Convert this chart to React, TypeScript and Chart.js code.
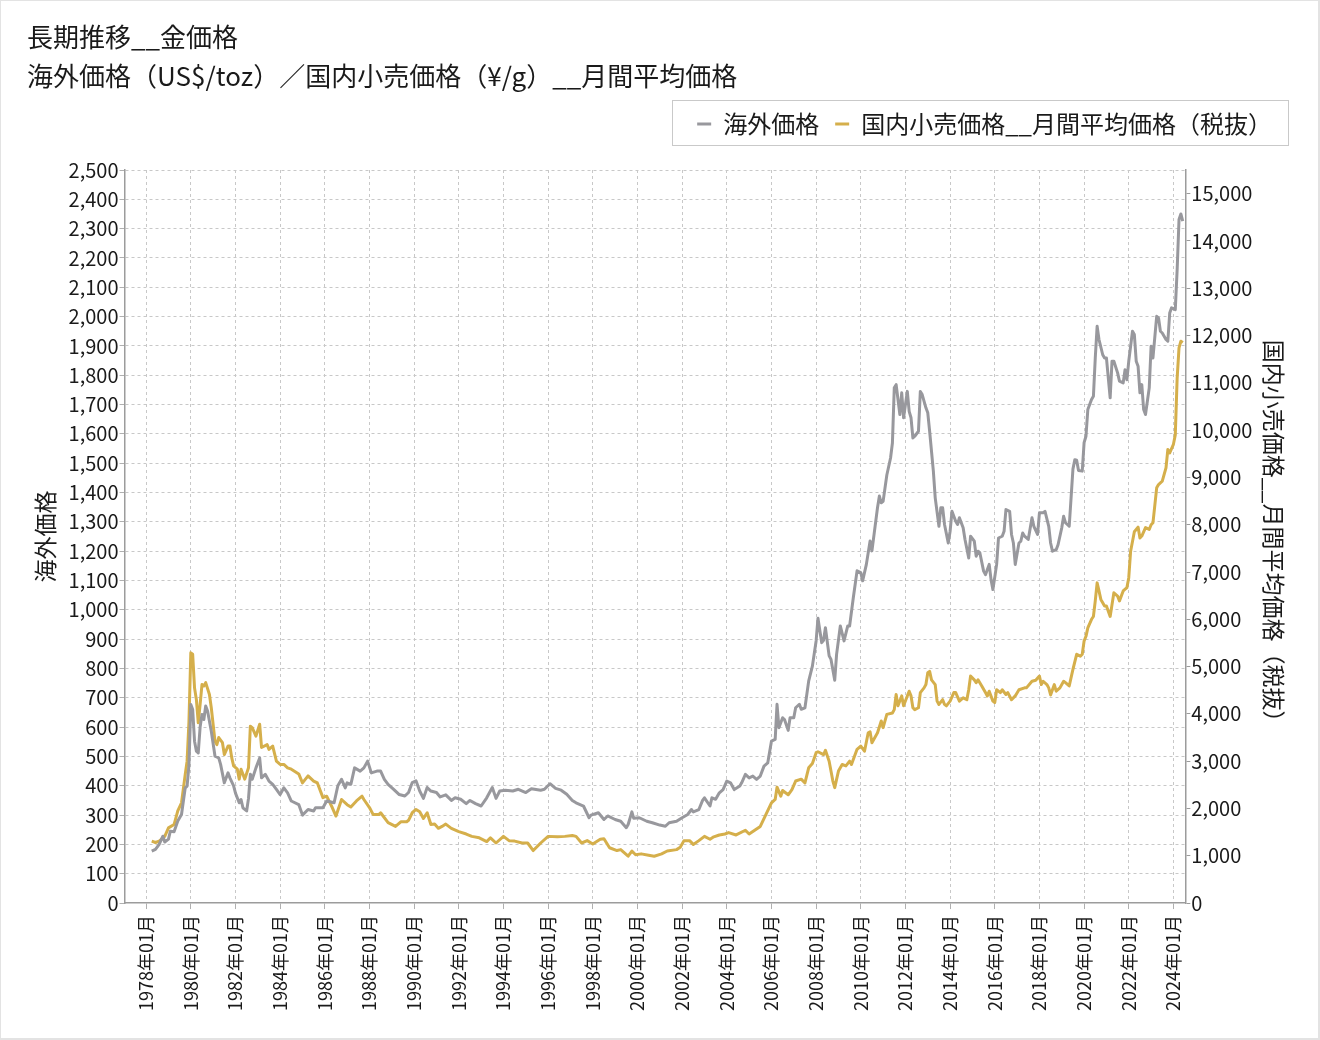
import { useEffect, useRef } from "react"
import { Chart, registerables } from "chart.js"

Chart.register(...registerables)

const FONT = "'Noto Sans CJK JP', 'Noto Sans', sans-serif"
Chart.defaults.font.family = FONT
Chart.defaults.color = "#1a1a1a"

const titleLines = ["長期推移__金価格", "海外価格（US$/toz）／国内小売価格（¥/g）__月間平均価格"]
const overseasLabel = "海外価格"
const domesticLabel = "国内小売価格__月間平均価格（税抜）"

const xTickLabels = [
  "1978年01月", "1980年01月", "1982年01月", "1984年01月", "1986年01月", "1988年01月",
  "1990年01月", "1992年01月", "1994年01月", "1996年01月", "1998年01月", "2000年01月",
  "2002年01月", "2004年01月", "2006年01月", "2008年01月", "2010年01月", "2012年01月",
  "2014年01月", "2016年01月", "2018年01月", "2020年01月", "2022年01月", "2024年01月",
]
const rightTickValues = [0, 1000, 2000, 3000, 4000, 5000, 6000, 7000, 8000, 9000, 10000, 11000, 12000, 13000, 14000, 15000]

// 海外価格 (US$/toz)
const overseasSeries: [string, number][] = [
  ["1978-04", 177], ["1978-06", 183], ["1978-08", 200], ["1978-10", 228], ["1978-11", 208],
  ["1979-01", 218], ["1979-02", 245], ["1979-04", 243], ["1979-06", 280], ["1979-08", 302],
  ["1979-10", 393], ["1979-11", 399], ["1979-12", 470], ["1980-01", 677], ["1980-02", 660],
  ["1980-03", 552], ["1980-04", 518], ["1980-05", 512], ["1980-06", 600], ["1980-07", 643],
  ["1980-08", 626], ["1980-09", 672], ["1980-10", 655], ["1980-12", 586], ["1981-02", 501],
  ["1981-04", 495], ["1981-05", 473], ["1981-07", 410], ["1981-09", 444], ["1981-10", 427],
  ["1981-12", 400], ["1982-01", 375], ["1982-03", 342], ["1982-04", 353], ["1982-05", 325],
  ["1982-07", 314], ["1982-08", 357], ["1982-09", 439], ["1982-10", 422], ["1982-12", 461],
  ["1983-02", 495], ["1983-03", 427], ["1983-05", 439], ["1983-07", 416], ["1983-09", 405],
  ["1983-11", 388], ["1984-01", 370], ["1984-03", 393], ["1984-05", 376], ["1984-07", 348],
  ["1984-11", 336], ["1985-01", 300], ["1985-04", 319], ["1985-07", 314], ["1985-08", 325],
  ["1985-12", 325], ["1986-02", 348], ["1986-06", 342], ["1986-08", 400], ["1986-10", 422],
  ["1986-12", 393], ["1987-01", 410], ["1987-03", 405], ["1987-05", 461], ["1987-08", 450],
  ["1987-10", 461], ["1987-12", 484], ["1988-02", 444], ["1988-05", 450], ["1988-07", 450],
  ["1988-09", 422], ["1988-11", 405], ["1989-02", 388], ["1989-05", 370], ["1989-08", 365],
  ["1989-10", 377], ["1989-12", 411], ["1990-02", 417], ["1990-04", 382], ["1990-06", 357],
  ["1990-08", 394], ["1990-10", 382], ["1991-01", 377], ["1991-03", 362], ["1991-06", 369],
  ["1991-09", 350], ["1991-11", 359], ["1992-02", 354], ["1992-05", 339], ["1992-07", 350],
  ["1992-10", 339], ["1993-01", 331], ["1993-04", 359], ["1993-07", 394], ["1993-09", 357],
  ["1993-11", 382], ["1994-02", 385], ["1994-06", 382], ["1994-09", 388], ["1995-01", 377],
  ["1995-04", 390], ["1995-09", 385], ["1995-11", 388], ["1996-02", 407], ["1996-05", 391],
  ["1996-08", 385], ["1996-11", 371], ["1997-02", 350], ["1997-04", 342], ["1997-08", 331],
  ["1997-11", 291], ["1997-12", 300], ["1998-04", 308], ["1998-07", 285], ["1998-09", 297],
  ["1999-01", 285], ["1999-04", 279], ["1999-07", 257], ["1999-08", 268], ["1999-10", 311],
  ["1999-11", 289], ["2000-02", 291], ["2000-06", 279], ["2000-09", 274], ["2001-01", 266],
  ["2001-04", 262], ["2001-06", 274], ["2001-10", 279], ["2002-01", 291], ["2002-04", 302],
  ["2002-06", 319], ["2002-07", 311], ["2002-10", 319], ["2002-12", 350], ["2003-01", 359],
  ["2003-04", 331], ["2003-05", 359], ["2003-07", 354], ["2003-09", 376], ["2003-11", 387],
  ["2004-01", 416], ["2004-03", 410], ["2004-05", 387], ["2004-08", 399], ["2004-09", 410],
  ["2004-11", 439], ["2005-01", 427], ["2005-03", 433], ["2005-05", 422], ["2005-07", 433],
  ["2005-09", 467], ["2005-11", 478], ["2006-01", 552], ["2006-03", 558], ["2006-04", 678],
  ["2006-05", 598], ["2006-07", 632], ["2006-08", 626], ["2006-10", 589], ["2006-11", 632],
  ["2007-01", 632], ["2007-02", 666], ["2007-04", 678], ["2007-05", 661], ["2007-07", 666],
  ["2007-09", 757], ["2007-11", 808], ["2008-01", 894], ["2008-02", 971], ["2008-04", 888],
  ["2008-05", 896], ["2008-06", 939], ["2008-08", 843], ["2008-09", 831], ["2008-11", 760],
  ["2008-12", 848], ["2009-02", 945], ["2009-04", 894], ["2009-06", 945], ["2009-07", 945],
  ["2009-09", 1042], ["2009-11", 1133], ["2010-01", 1127], ["2010-02", 1099], ["2010-04", 1155],
  ["2010-06", 1235], ["2010-07", 1201], ["2010-10", 1349], ["2010-11", 1388], ["2010-12", 1365],
  ["2011-01", 1370], ["2011-03", 1460], ["2011-05", 1518], ["2011-06", 1569], ["2011-07", 1757],
  ["2011-08", 1768], ["2011-10", 1666], ["2011-11", 1740], ["2011-12", 1655], ["2012-02", 1745],
  ["2012-03", 1677], ["2012-04", 1655], ["2012-05", 1586], ["2012-06", 1592], ["2012-08", 1609],
  ["2012-09", 1745], ["2012-10", 1734], ["2012-12", 1689], ["2013-01", 1672], ["2013-02", 1609],
  ["2013-04", 1473], ["2013-05", 1382], ["2013-07", 1285], ["2013-08", 1348], ["2013-09", 1348],
  ["2013-10", 1291], ["2013-12", 1228], ["2014-01", 1268], ["2014-02", 1336], ["2014-04", 1302],
  ["2014-05", 1291], ["2014-06", 1314], ["2014-08", 1280], ["2014-09", 1240], ["2014-11", 1177],
  ["2014-12", 1251], ["2015-02", 1234], ["2015-03", 1183], ["2015-04", 1200], ["2015-05", 1194],
  ["2015-07", 1132], ["2015-08", 1120], ["2015-10", 1155], ["2015-11", 1103], ["2015-12", 1069],
  ["2016-02", 1155], ["2016-03", 1245], ["2016-05", 1251], ["2016-06", 1268], ["2016-07", 1342],
  ["2016-09", 1336], ["2016-10", 1257], ["2016-11", 1228], ["2016-12", 1155], ["2017-02", 1228],
  ["2017-03", 1234], ["2017-04", 1262], ["2017-05", 1251], ["2017-07", 1240], ["2017-09", 1314],
  ["2017-10", 1285], ["2017-12", 1257], ["2018-01", 1331], ["2018-03", 1331], ["2018-04", 1336],
  ["2018-06", 1285], ["2018-07", 1228], ["2018-08", 1200], ["2018-10", 1205], ["2018-11", 1222],
  ["2019-01", 1280], ["2019-02", 1319], ["2019-03", 1297], ["2019-05", 1285], ["2019-06", 1382],
  ["2019-07", 1480], ["2019-08", 1512], ["2019-09", 1510], ["2019-10", 1475], ["2019-12", 1473],
  ["2020-01", 1570], ["2020-02", 1592], ["2020-03", 1683], ["2020-05", 1717], ["2020-06", 1728],
  ["2020-07", 1859], ["2020-08", 1967], ["2020-09", 1922], ["2020-11", 1870], ["2020-12", 1859],
  ["2021-01", 1859], ["2021-03", 1723], ["2021-04", 1848], ["2021-05", 1848], ["2021-07", 1808],
  ["2021-08", 1780], ["2021-10", 1774], ["2021-11", 1819], ["2021-12", 1785], ["2022-01", 1848],
  ["2022-03", 1950], ["2022-04", 1939], ["2022-05", 1848], ["2022-06", 1831], ["2022-07", 1740],
  ["2022-08", 1768], ["2022-09", 1683], ["2022-10", 1666], ["2022-12", 1757], ["2023-01", 1899],
  ["2023-02", 1859], ["2023-04", 2001], ["2023-05", 1995], ["2023-06", 1950], ["2023-07", 1944],
  ["2023-09", 1922], ["2023-10", 1916], ["2023-11", 2012], ["2023-12", 2030], ["2024-02", 2024],
  ["2024-03", 2160], ["2024-04", 2331], ["2024-05", 2350], ["2024-06", 2326],
]

// 国内小売価格 月間平均 税抜 (¥/g)
const domesticSeries: [string, number][] = [
  ["1978-04", 1310], ["1978-06", 1280], ["1978-08", 1310], ["1978-11", 1410], ["1979-01", 1590],
  ["1979-04", 1660], ["1979-06", 1950], ["1979-08", 2120], ["1979-10", 2720], ["1979-11", 3000],
  ["1979-12", 3840], ["1980-01", 5290], ["1980-02", 5260], ["1980-03", 4550], ["1980-04", 4300],
  ["1980-05", 3810], ["1980-06", 4200], ["1980-07", 4620], ["1980-08", 4590], ["1980-09", 4660],
  ["1980-11", 4410], ["1980-12", 4130], ["1981-02", 3420], ["1981-03", 3350], ["1981-04", 3500],
  ["1981-06", 3390], ["1981-07", 3140], ["1981-09", 3320], ["1981-10", 3320], ["1981-11", 3070],
  ["1981-12", 2900], ["1982-02", 2830], ["1982-03", 2620], ["1982-04", 2830], ["1982-06", 2620],
  ["1982-08", 2860], ["1982-09", 3740], ["1982-10", 3710], ["1982-12", 3530], ["1983-02", 3780],
  ["1983-03", 3290], ["1983-06", 3350], ["1983-07", 3250], ["1983-09", 3320], ["1983-11", 3000],
  ["1984-01", 2930], ["1984-03", 2930], ["1984-05", 2860], ["1984-07", 2830], ["1984-11", 2730],
  ["1985-01", 2540], ["1985-04", 2690], ["1985-07", 2580], ["1985-09", 2540], ["1985-12", 2230],
  ["1986-02", 2260], ["1986-05", 2020], ["1986-07", 1840], ["1986-10", 2190], ["1987-01", 2080],
  ["1987-03", 2030], ["1987-06", 2160], ["1987-09", 2260], ["1987-10", 2190], ["1988-01", 2020],
  ["1988-03", 1870], ["1988-06", 1870], ["1988-07", 1910], ["1988-11", 1700], ["1989-03", 1620],
  ["1989-06", 1720], ["1989-09", 1720], ["1989-10", 1750], ["1989-12", 1910], ["1990-02", 1980],
  ["1990-04", 1930], ["1990-06", 1790], ["1990-08", 1910], ["1990-10", 1660], ["1990-12", 1670],
  ["1991-02", 1580], ["1991-04", 1620], ["1991-06", 1670], ["1991-09", 1580], ["1992-01", 1510],
  ["1992-05", 1460], ["1992-08", 1410], ["1992-12", 1380], ["1993-04", 1300], ["1993-06", 1380],
  ["1993-09", 1270], ["1994-01", 1410], ["1994-04", 1320], ["1994-07", 1310], ["1994-11", 1270],
  ["1995-02", 1270], ["1995-05", 1110], ["1995-09", 1270], ["1996-01", 1410], ["1996-06", 1400],
  ["1996-10", 1410], ["1997-02", 1430], ["1997-04", 1410], ["1997-07", 1270], ["1997-10", 1320],
  ["1998-01", 1250], ["1998-05", 1350], ["1998-07", 1360], ["1998-10", 1170], ["1999-02", 1110],
  ["1999-04", 1130], ["1999-08", 990], ["1999-10", 1100], ["1999-12", 1020], ["2000-03", 1040],
  ["2000-07", 1010], ["2000-10", 990], ["2001-02", 1040], ["2001-05", 1100], ["2001-10", 1130],
  ["2001-12", 1180], ["2002-02", 1320], ["2002-05", 1320], ["2002-07", 1240], ["2002-10", 1320],
  ["2003-01", 1410], ["2003-04", 1350], ["2003-06", 1400], ["2003-09", 1440], ["2003-12", 1460],
  ["2004-02", 1490], ["2004-06", 1440], ["2004-11", 1540], ["2005-01", 1460], ["2005-04", 1540],
  ["2005-07", 1620], ["2005-10", 1870], ["2006-01", 2120], ["2006-03", 2190], ["2006-04", 2450],
  ["2006-06", 2260], ["2006-07", 2380], ["2006-10", 2290], ["2006-12", 2400], ["2007-02", 2580],
  ["2007-05", 2620], ["2007-07", 2540], ["2007-09", 2860], ["2007-11", 2950], ["2008-01", 3180],
  ["2008-02", 3200], ["2008-05", 3140], ["2008-06", 3230], ["2008-08", 3000], ["2008-10", 2580],
  ["2008-11", 2440], ["2009-01", 2790], ["2009-03", 2930], ["2009-05", 2900], ["2009-07", 3000],
  ["2009-08", 2930], ["2009-11", 3250], ["2010-01", 3320], ["2010-03", 3210], ["2010-05", 3600],
  ["2010-06", 3620], ["2010-07", 3390], ["2010-10", 3600], ["2010-12", 3850], ["2011-01", 3710],
  ["2011-03", 3990], ["2011-06", 4020], ["2011-07", 4090], ["2011-08", 4410], ["2011-09", 4170],
  ["2011-11", 4380], ["2011-12", 4170], ["2012-02", 4380], ["2012-03", 4480], ["2012-04", 4380],
  ["2012-05", 4130], ["2012-06", 4090], ["2012-08", 4130], ["2012-09", 4450], ["2012-11", 4550],
  ["2012-12", 4620], ["2013-01", 4870], ["2013-02", 4900], ["2013-03", 4720], ["2013-05", 4620],
  ["2013-06", 4270], ["2013-07", 4200], ["2013-09", 4300], ["2013-10", 4200], ["2013-11", 4170],
  ["2014-01", 4270], ["2014-03", 4450], ["2014-04", 4450], ["2014-06", 4270], ["2014-08", 4340],
  ["2014-10", 4300], ["2014-11", 4510], ["2014-12", 4800], ["2015-02", 4720], ["2015-03", 4660],
  ["2015-04", 4720], ["2015-06", 4590], ["2015-08", 4450], ["2015-09", 4380], ["2015-10", 4480],
  ["2015-12", 4270], ["2016-01", 4240], ["2016-02", 4510], ["2016-04", 4450], ["2016-05", 4510],
  ["2016-07", 4410], ["2016-08", 4450], ["2016-10", 4300], ["2016-12", 4380], ["2017-02", 4510],
  ["2017-05", 4550], ["2017-06", 4550], ["2017-09", 4690], ["2017-11", 4710], ["2018-01", 4800],
  ["2018-02", 4620], ["2018-03", 4690], ["2018-05", 4620], ["2018-06", 4550], ["2018-07", 4400],
  ["2018-09", 4620], ["2018-10", 4480], ["2018-12", 4550], ["2019-02", 4690], ["2019-03", 4660],
  ["2019-05", 4590], ["2019-07", 4940], ["2019-09", 5260], ["2019-11", 5220], ["2019-12", 5260],
  ["2020-01", 5540], ["2020-02", 5640], ["2020-03", 5820], ["2020-05", 6000], ["2020-06", 6060],
  ["2020-07", 6390], ["2020-08", 6770], ["2020-09", 6600], ["2020-10", 6420], ["2020-12", 6280],
  ["2021-01", 6280], ["2021-03", 6060], ["2021-04", 6310], ["2021-05", 6560], ["2021-07", 6490],
  ["2021-08", 6390], ["2021-10", 6600], ["2021-12", 6670], ["2022-01", 6880], ["2022-02", 7440],
  ["2022-04", 7850], ["2022-06", 7950], ["2022-07", 7720], ["2022-08", 7760], ["2022-10", 7940],
  ["2022-12", 7900], ["2023-01", 8000], ["2023-02", 8040], ["2023-04", 8780], ["2023-05", 8850],
  ["2023-07", 8920], ["2023-09", 9200], ["2023-10", 9590], ["2023-11", 9520], ["2024-01", 9700],
  ["2024-02", 9900], ["2024-03", 11100], ["2024-04", 11740], ["2024-05", 11880], ["2024-06", 11850],
]

const BASE_YEAR = 1978
const monthIndex = (ym: string) => {
  const [y, m] = ym.split("-").map(Number)
  return (y - BASE_YEAR) * 12 + (m - 1)
}
const tickIndex = (label: string) => (Number(label.slice(0, 4)) - BASE_YEAR) * 12
const tickLabelAt = new Map(xTickLabels.map((l) => [tickIndex(l), l]))

const GREY = "#98989d"
const GOLD = "#d5af4b"
const GRID = "#c8c8c8"
const AXIS = "#9c9c9c"

// extra room between the legend and the plot area
const legendSpacer = {
  id: "legendSpacer",
  afterInit(chart: any) {
    const legend = chart.legend
    if (!legend || legend._spaced) return
    const fit = legend.fit
    legend.fit = function () {
      fit.call(this)
      this.height += 24
    }
    legend._spaced = true
  },
}

// frame around the legend items
const legendFrame = {
  id: "legendFrame",
  afterDraw(chart: any) {
    const boxes = chart.legend?.legendHitBoxes
    if (!boxes || !boxes.length) return
    const first = boxes[0]
    const last = boxes[boxes.length - 1]
    const { ctx } = chart
    ctx.save()
    ctx.strokeStyle = "#c9c9c9"
    ctx.lineWidth = 1
    const left = Math.round(first.left - 25) + 0.5
    const right = Math.round(last.left + last.width + 16) + 0.5
    const top = Math.round(first.top - 12) + 0.5
    const bottom = Math.round(first.top + first.height + 9) + 0.5
    ctx.strokeRect(left, top, right - left, bottom - top)
    ctx.restore()
  },
}

export default function App() {
  const canvasRef = useRef<HTMLCanvasElement>(null)

  useEffect(() => {
    document.body.style.margin = "0"
    if (!canvasRef.current) return

    const chart = new Chart(canvasRef.current, {
      type: "line",
      data: {
        datasets: [
          {
            label: overseasLabel,
            data: overseasSeries.map(([m, v]) => ({ x: monthIndex(m), y: v })),
            borderColor: GREY,
            backgroundColor: GREY,
            borderWidth: 3,
            pointRadius: 0,
            borderJoinStyle: "round",
            yAxisID: "y",
          },
          {
            label: domesticLabel,
            data: domesticSeries.map(([m, v]) => ({ x: monthIndex(m), y: v })),
            borderColor: GOLD,
            backgroundColor: GOLD,
            borderWidth: 3,
            pointRadius: 0,
            borderJoinStyle: "round",
            yAxisID: "y2",
          },
        ],
      },
      options: {
        animation: false,
        responsive: true,
        maintainAspectRatio: false,
        layout: { padding: { left: 26, right: 30, top: 0, bottom: 21 } },
        plugins: {
          title: {
            display: true,
            align: "start",
            text: titleLines,
            color: "#1a1a1a",
            font: { size: 26, weight: "normal", lineHeight: 1.5 },
            padding: { top: 17, bottom: 0 },
          },
          legend: {
            position: "top",
            align: "end",
            labels: {
              usePointStyle: true,
              pointStyle: "line",
              pointStyleWidth: 14,
              padding: 16,
              color: "#1a1a1a",
              font: { size: 24 },
            },
          },
          tooltip: { enabled: false },
        },
        scales: {
          x: {
            type: "linear",
            min: -11.6,
            max: 558.4,
            afterBuildTicks: (axis: any) => {
              axis.ticks = xTickLabels.map((l) => ({ value: tickIndex(l) }))
            },
            ticks: {
              autoSkip: false,
              minRotation: 90,
              maxRotation: 90,
              padding: 6,
              color: "#1a1a1a",
              font: { size: 18 },
              callback: (v: any) => tickLabelAt.get(Number(v)) ?? "",
            },
            grid: { color: GRID, tickLength: 6, tickColor: "#b0b0b0" },
            border: { color: AXIS, width: 1.5, dash: [3, 3] },
          },
          y: {
            position: "left",
            min: 0,
            max: 2500,
            ticks: {
              stepSize: 100,
              autoSkip: false,
              padding: 1,
              color: "#1a1a1a",
              font: { size: 20 },
              callback: (v: any) => Number(v).toLocaleString("en-US"),
            },
            grid: {
              color: (c: any) => (c.tick && c.tick.value === 0 ? "rgba(0,0,0,0)" : GRID),
              tickColor: "#b0b0b0",
              tickLength: 5,
            },
            border: { color: AXIS, width: 1.5, dash: [3, 3] },
            title: {
              display: true,
              text: overseasLabel,
              color: "#1a1a1a",
              font: { size: 23 },
              padding: { top: 4, bottom: 9 },
            },
          },
          y2: {
            position: "right",
            min: 0,
            max: 15500,
            afterBuildTicks: (axis: any) => {
              axis.ticks = rightTickValues.map((v) => ({ value: v }))
            },
            ticks: {
              autoSkip: false,
              padding: 1,
              color: "#1a1a1a",
              font: { size: 20 },
              callback: (v: any) => Number(v).toLocaleString("en-US"),
            },
            grid: { drawOnChartArea: false, color: AXIS, tickLength: 5 },
            border: { color: AXIS, width: 1.5 },
            title: {
              display: true,
              text: domesticLabel,
              color: "#1a1a1a",
              font: { size: 23 },
              padding: { top: 0, bottom: 7 },
            },
          },
        },
      },
      plugins: [legendSpacer, legendFrame],
    } as any)

    return () => chart.destroy()
  }, [])

  return (
    <div
      style={{
        width: 1320,
        height: 1040,
        boxSizing: "border-box",
        borderStyle: "solid",
        borderColor: "#e3e3e3",
        borderWidth: "1px 2px 2px 1px",
        background: "#fff",
      }}
    >
      <div style={{ position: "relative", width: 1317, height: 1037 }}>
        <canvas ref={canvasRef} />
      </div>
    </div>
  )
}
